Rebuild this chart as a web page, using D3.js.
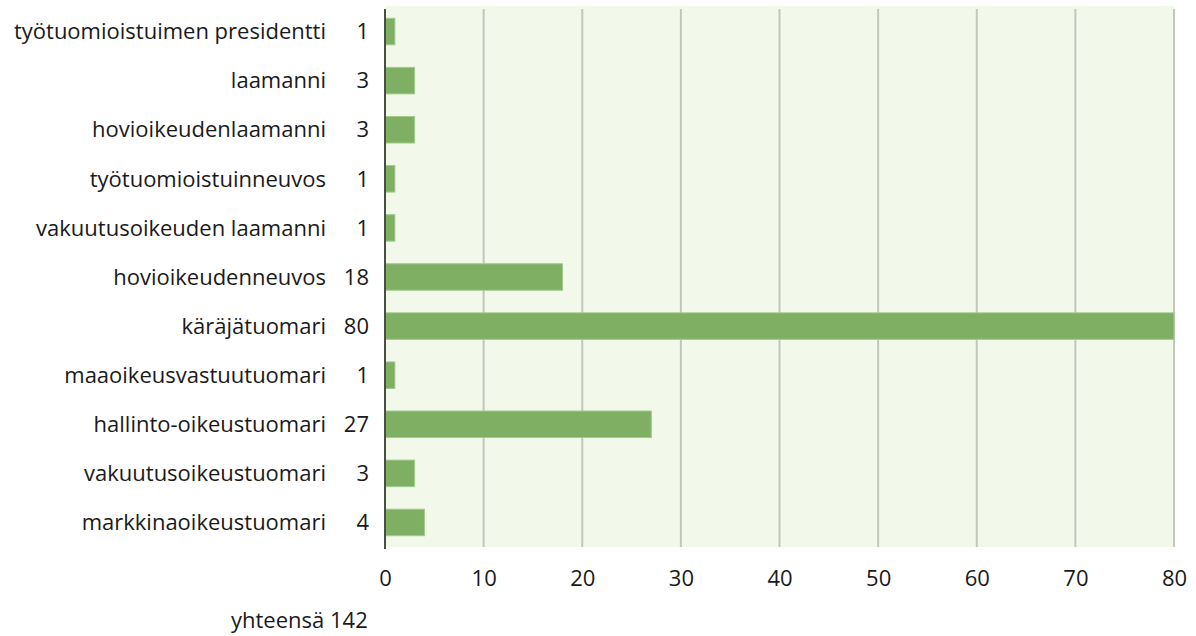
<!DOCTYPE html>
<html><head><meta charset="utf-8">
<script src="https://cdn.jsdelivr.net/npm/d3@7"></script>
<style>body{margin:0;background:#fff}svg{display:block}text{font-family:"Open Sans","Noto Sans",sans-serif;fill:#1a1a1a}</style>
</head><body>
<svg id="c" width="1196" height="636"></svg>
<script>
const categories = ["työtuomioistuimen presidentti","laamanni","hovioikeudenlaamanni","työtuomioistuinneuvos","vakuutusoikeuden laamanni","hovioikeudenneuvos","käräjätuomari","maaoikeusvastuutuomari","hallinto-oikeustuomari","vakuutusoikeustuomari","markkinaoikeustuomari"];
const values = [1,3,3,1,1,18,80,1,27,3,4];
const ticks = [0,10,20,30,40,50,60,70,80];
const totalLabel = "yhteensä 142";

const svg = d3.select("#c");
const FS = 22;
const m = {l:385, r:1174, t:7, b:547};
const x = d3.scaleLinear().domain([0,80]).range([m.l, m.r]);
const y = d3.scaleBand().domain(categories).range([m.t, m.b]).paddingInner(0.46).paddingOuter(0.23);

svg.append("rect").attr("x", m.l).attr("y", m.t - 1).attr("width", m.r - m.l).attr("height", m.b - m.t + 1).attr("fill", "#f2f8ea");

svg.append("g").selectAll("line").data(ticks.filter(t => t > 0)).join("line")
  .attr("x1", d => x(d)).attr("x2", d => x(d)).attr("y1", m.t + 2).attr("y2", m.b)
  .attr("stroke", "#c3c6bd").attr("stroke-width", 2);

svg.append("g").selectAll("rect").data(values).join("rect")
  .attr("x", x(0)).attr("y", (d,i) => y(categories[i]))
  .attr("width", d => x(d) - x(0)).attr("height", y.bandwidth())
  .attr("fill", "#7faf63").attr("stroke", "#a3c98e").attr("stroke-width", 1);

svg.append("line").attr("x1", m.l).attr("x2", m.l).attr("y1", m.t + 2).attr("y2", m.b + 2)
  .attr("stroke", "#4a4f45").attr("stroke-width", 2);

const cy = c => y(c) + y.bandwidth()/2;
svg.append("g").selectAll("text").data(categories).join("text")
  .attr("x", 326).attr("y", c => cy(c)).attr("dy", "0.35em").attr("text-anchor", "end")
  .attr("font-size", FS).text(d => d);
svg.append("g").selectAll("text").data(values).join("text")
  .attr("x", 369).attr("y", (d,i) => cy(categories[i])).attr("dy", "0.35em").attr("text-anchor", "end")
  .attr("font-size", FS).text(d => d);

const ax = svg.append("g").attr("transform", `translate(0,${m.b})`)
  .call(d3.axisBottom(x).tickValues(ticks).tickSize(0).tickPadding(23));
ax.select(".domain").remove();
ax.selectAll("text").attr("font-size", FS).attr("fill", "#1a1a1a").style("font-family", '"Open Sans","Noto Sans",sans-serif');

svg.append("text").attr("x", 231).attr("y", 620).attr("dy", "0.35em").attr("text-anchor", "start")
  .attr("font-size", FS).text(totalLabel);
</script>
</body></html>
